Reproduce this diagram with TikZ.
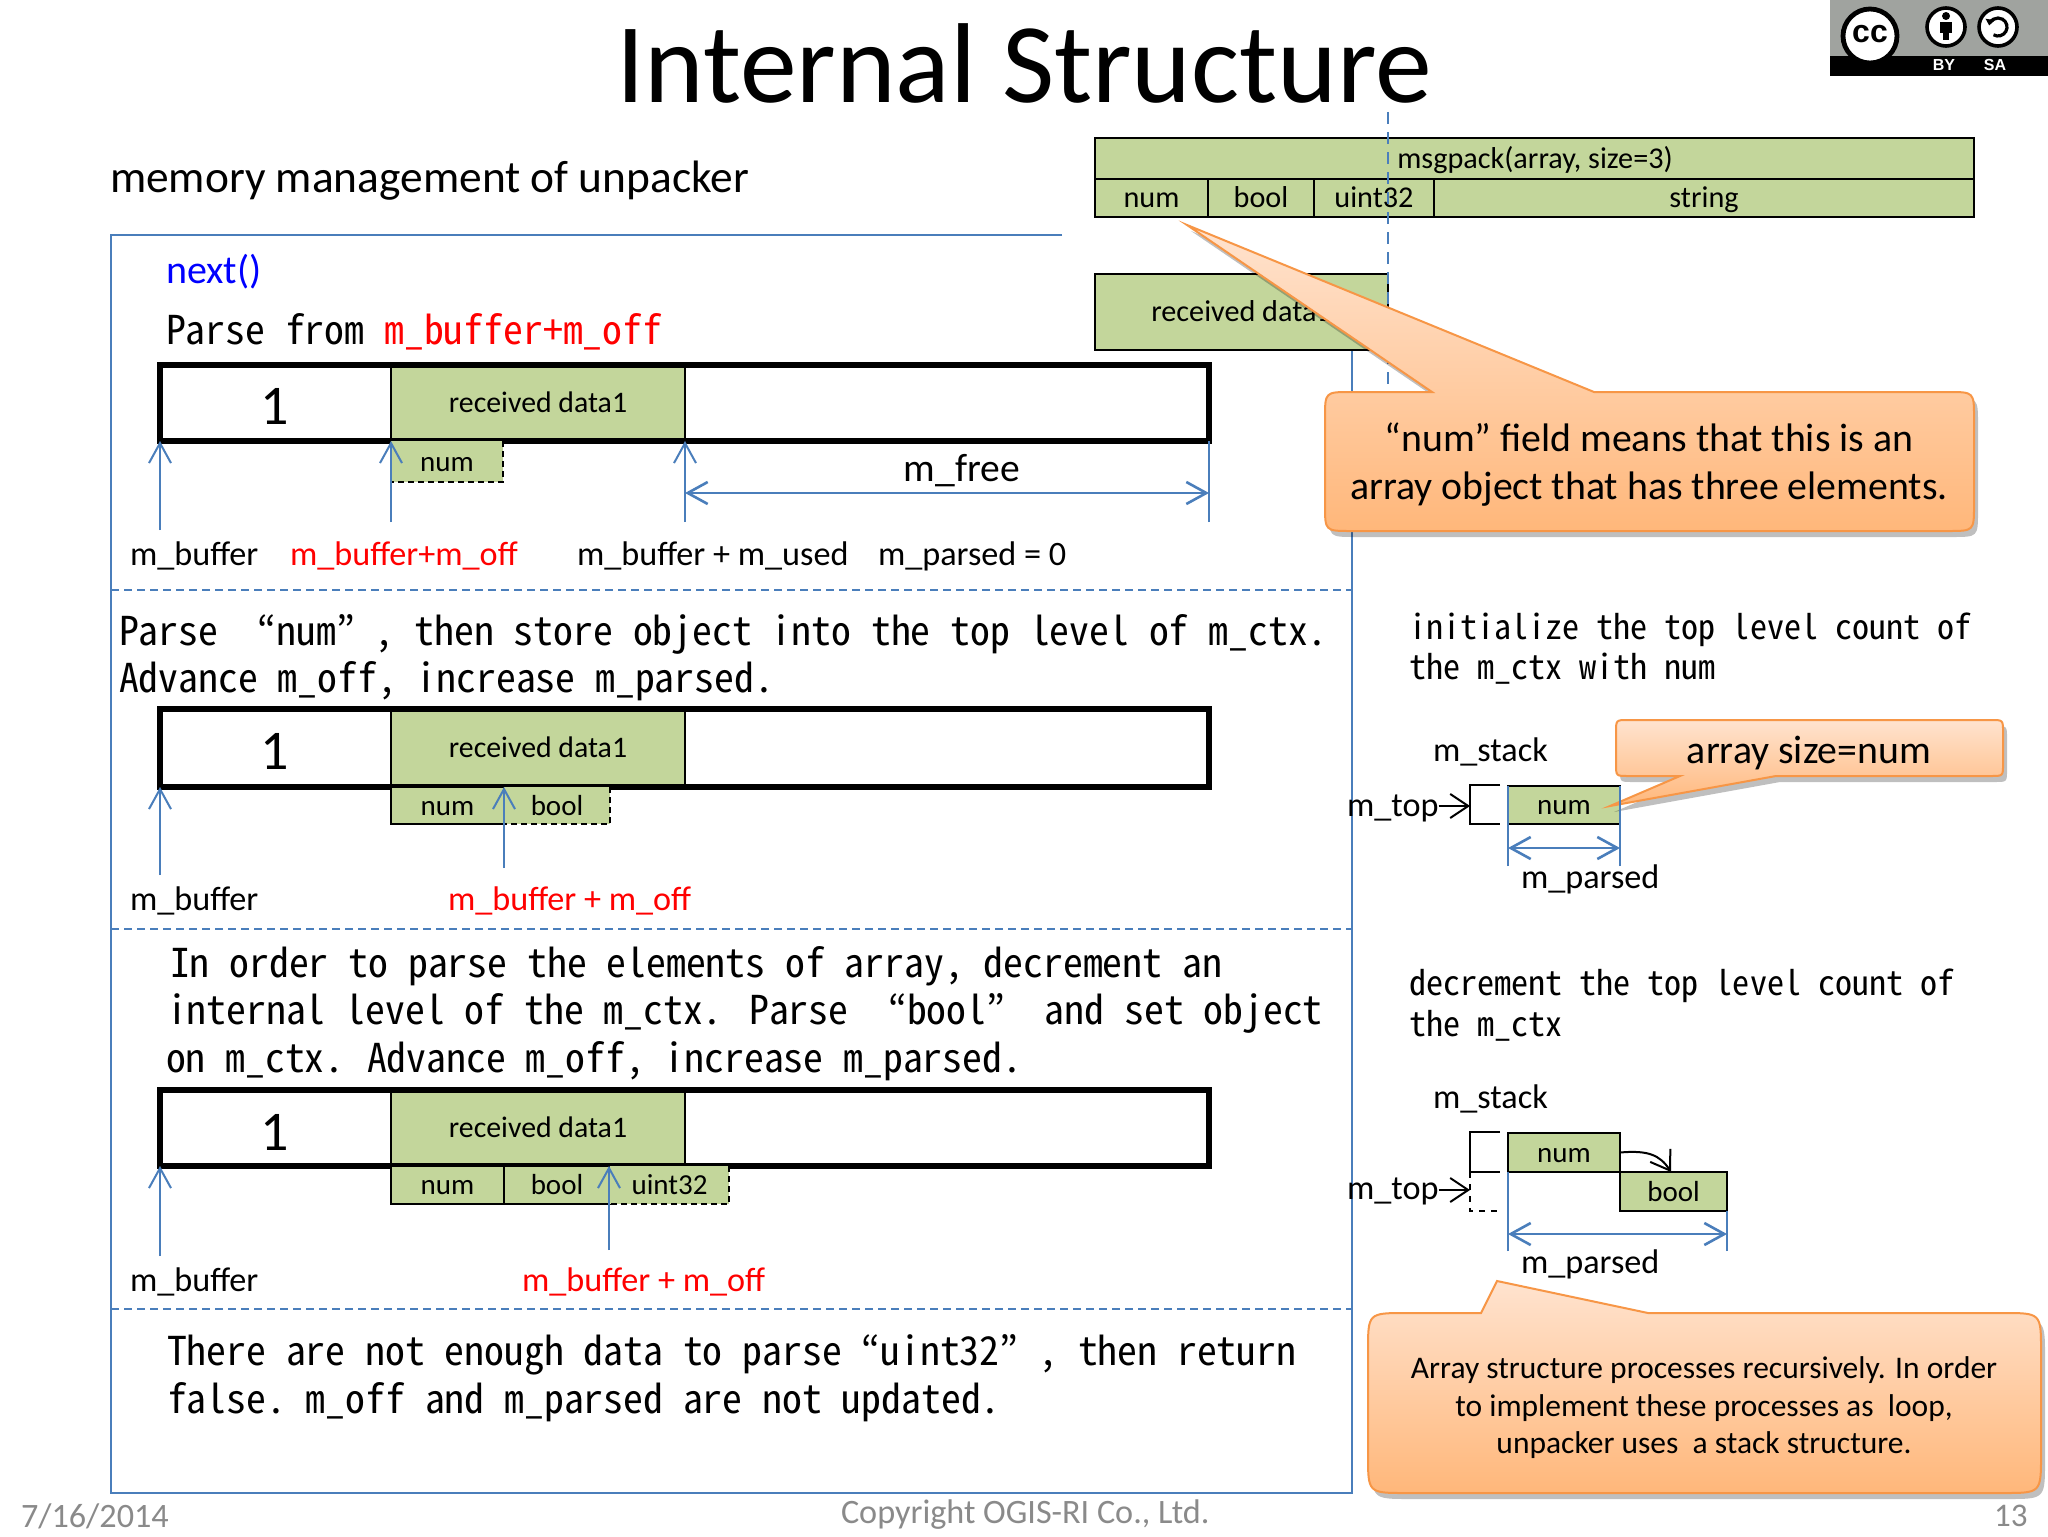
\documentclass[tikz,border=0pt]{standalone}
\usepackage{fontspec}
\usetikzlibrary{arrows.meta,shadows}
\setmainfont{Carlito}
\newfontfamily\jpf[RawFeature={+hwid;-liga;-clig;-dlig}]{Noto Sans CJK JP}
\newfontfamily\lsf{Liberation Sans}
\newcommand\fz[1]{\fontsize{#1}{#1}\selectfont}
\definecolor{grn}{HTML}{C3D69B}
\definecolor{blu}{HTML}{4A7EBB}
\definecolor{org}{HTML}{F79646}
\definecolor{otop}{HTML}{FFE3CF}
\definecolor{obot}{HTML}{FFB77A}
\definecolor{gry}{HTML}{8A8A8A}
\definecolor{ccg}{HTML}{A0A39F}
\newcommand\stru{\rule[-.2em]{0pt}{.92em}}
\newcommand\strub{\rule[-.2em]{0pt}{1.06em}}
\tikzset{
 txt/.style={inner sep=0,outer sep=0,anchor=west,yshift=-1.5pt,execute at begin node=\stru},
 ctr/.style={txt,anchor=center},
 mono/.style={txt,font=\jpf\fz{19.85},black},
 monos/.style={txt,font=\jpf\fz{17.05},black},
 lab/.style={txt,font=\fz{17.1}},
 blk/.style={inner sep=0,outer sep=0,draw=black,line width=.75pt,fill=grn,font=\fz{15.1},execute at begin node=\strub},
 buf/.style={inner sep=0,outer sep=0,draw=black,line width=2.7pt},
 dataf/.style={inner sep=0,outer sep=0,fill=grn,draw=black,line width=.6pt,font=\fz{14.9},execute at begin node=\strub},
 cell/.style={inner sep=0,outer sep=0,fill=grn,font=\fz{14.5},execute at begin node=\strub},
 ptr/.style={blu,line width=1pt,-{Straight Barb[length=10pt,width=11pt,line width=1pt]}},
 dim/.style={blu,line width=1.4pt,{Straight Barb[length=10pt,width=11pt,line width=1.3pt]}-{Straight Barb[length=10pt,width=11pt,line width=1.3pt]}},
 tick/.style={blu,line width=.8pt},
 sep/.style={blu,line width=.8pt,dash pattern=on 4pt off 2.5pt},
 blkarrow/.style={black,line width=1pt,-{Straight Barb[length=9pt,width=12pt,line width=1pt]}},
 cdash/.style={black,line width=.8pt,dash pattern=on 3pt off 2pt},
 callout/.style={draw=org,line width=1pt,top color=otop,bottom color=obot,drop shadow={shadow xshift=2pt,shadow yshift=-3pt,opacity=.25,fill=black}},
}
% style name x1 y1 x2 y2 text
\newcommand\bx[7]{\node[#1,minimum width={(#5-#3)*.5pt},minimum height={(#6-#4)*.5pt}] (#2) at ({(#3+#5)/2},{(#4+#6)/2}) {#7};}
% L T R B r b1 tipx tipy b2 : pointer on the top edge
\newcommand\callout[9]{%
 \path[callout] (#1,{#2+#5}) .. controls (#1,#2) .. ({#1+#5},#2) -- (#6,#2) -- (#7,#8) -- (#9,#2) -- ({#3-#5},#2)
  .. controls (#3,#2) .. (#3,{#2+#5}) -- (#3,{#4-#5}) .. controls (#3,#4) .. ({#3-#5},#4) -- ({#1+#5},#4)
  .. controls (#1,#4) .. (#1,{#4-#5}) -- cycle;}
% pointer on the bottom edge
\newcommand\calloutb[9]{%
 \path[callout] (#1,{#2+#5}) .. controls (#1,#2) .. ({#1+#5},#2) -- ({#3-#5},#2)
  .. controls (#3,#2) .. (#3,{#2+#5}) -- (#3,{#4-#5}) .. controls (#3,#4) .. ({#3-#5},#4) -- (#9,#4) -- (#7,#8) -- (#6,#4) -- ({#1+#5},#4)
  .. controls (#1,#4) .. (#1,{#4-#5}) -- cycle;}
\begin{document}
\begin{tikzpicture}[x=.5pt,y=-.5pt]
\useasboundingbox (0,0) rectangle (2048,1536);
\fill[white] (0,0) rectangle (2048,1536);
% frame
\draw[blu,line width=.7pt] (1062,235) -- (111,235) -- (111,1493) -- (1352,1493) -- (1352,350);
\foreach \y in {590,929,1309} \draw[sep] (111,\y) -- (1352,\y);
% title
\node[txt,font=\fz{56.8}] (title) at (616,70) {Internal Structure};
\node[txt,font=\fz{22.7}] (sub) at (110,178) {memory management of unpacker};
% cc logo
\fill[ccg] (1830,0) rectangle (2048,56);
\fill[black] (1830,56) rectangle (2048,76);
\draw[black,line width=2.4pt,fill=white] (1870,36) circle[radius=27];
\node[ctr,font=\lsf\bfseries\fz{16}] (cc) at (1870,31) {cc};
\draw[black,line width=1.8pt,fill=white] (1946,27) circle[radius=19];
\fill[black] (1946,16) circle[radius=4];
\fill[black] (1940,22) rectangle (1952,33);
\fill[black] (1943,33) rectangle (1949,40);
\draw[black,line width=1.8pt,fill=white] (1998,27) circle[radius=19];
\draw[black,line width=1.6pt,-{Triangle[length=3pt,width=4.5pt]}] (1993.5,34.8) arc[start angle=-120,end angle=170,radius=4.5pt];
\node[ctr,white,font=\lsf\bfseries\fz{8}] (by) at (1944,63) {BY};
\node[ctr,white,font=\lsf\bfseries\fz{8}] (sa) at (1995,63) {SA};
% msgpack
\bx{blk}{mp}{1095}{138}{1974}{179}{}
\node[ctr,font=\fz{15.1}] (mpt) at (1535,157) {msgpack(array, size=3)};
\bx{blk}{f1}{1095}{179}{1208}{217}{num}
\bx{blk}{f2}{1208}{179}{1314}{217}{bool}
\bx{blk}{f3}{1314}{179}{1434}{217}{uint32}
\bx{blk}{f4}{1434}{179}{1974}{217}{string}
\bx{blk}{rd}{1095}{274}{1388}{350}{received data1}
\draw[blu,line width=.8pt,dash pattern=on 6pt off 4pt] (1388,112) -- (1388,392);
\callout{1325}{392}{1974}{531}{26}{1432}{1187}{225}{1594}
\node[ctr,font=\fz{19.9}] (c1a) at (1649,438) {“num” field means that this is an};
\node[ctr,font=\fz{19.9}] (c1b) at (1649,486) {array object that has three elements.};
% first section
\node[txt,blue,font=\fz{20}] (nx) at (166,270) {next()};
\node[mono] (p1) at (166,330) {Parse from \textcolor{red}{m\_buffer+m\_off}};
\bx{dataf}{d1}{391}{365}{685}{441}{received data1}
\bx{buf}{b1}{160}{365}{1209}{441}{}
\node[ctr,font=\fz{28}] (one1) at (275,407) {1};
\bx{cell}{n1}{391}{441}{503}{482}{num}
\draw[cdash] (n1.north east) -- (n1.south east) -- (n1.south west);
\coordinate (a1) at (160,530); \coordinate (a2) at (391,522); \coordinate (a3) at (685,522); \coordinate (a4) at (1209,522);
\draw[ptr] (a1) -- (a1 |- b1.south);
\draw[ptr] (a2) -- (a2 |- b1.south);
\draw[ptr] (a3) -- (a3 |- b1.south);
\draw[tick] (a4) -- (a4 |- b1.south);
\coordinate (a3m) at (685,493); \coordinate (a4m) at (1209,493);
\draw[dim] (a3m) -- (a4m);
\node[ctr,font=\fz{19.8}] (mf) at (962,468) {m\_free};
\node[lab] (l1) at (130,554) {m\_buffer};
\node[lab,red] (l2) at (290,554) {m\_buffer+m\_off};
\node[lab] (l3) at (577,554) {m\_buffer + m\_used};
\node[lab] (l4) at (878,554) {m\_parsed = 0};
% second
\node[mono] (t1) at (119,631) {Parse~ “num” , then store object into the top level of m\_ctx.};
\node[mono] (t2) at (119,678) {Advance m\_off, increase m\_parsed.};
\bx{dataf}{d2}{391}{709}{685}{787}{received data1}
\bx{buf}{b2}{160}{709}{1209}{787}{}
\node[ctr,font=\fz{28}] (one2) at (275,752) {1};
\bx{blk,font=\fz{14.5}}{n2}{391}{787}{504}{824}{num}
\bx{cell}{bo2}{504}{787}{610}{824}{bool}
\draw[cdash] (bo2.north east) -- (bo2.south east) -- (bo2.south west);
\coordinate (a5) at (160,875); \coordinate (a6) at (504,868);
\draw[ptr] (a5) -- (a5 |- b2.south);
\draw[ptr] (a6) -- (a6 |- b2.south);
\node[lab] (l5) at (130,899) {m\_buffer};
\node[lab,red] (l6) at (448,899) {m\_buffer + m\_off};
% third
\node[mono] (t3) at (170,963) {In order to parse the elements of array, decrement an};
\node[mono] (t4) at (167,1010) {internal level of the m\_ctx. Parse~ “bool”~ and set object};
\node[mono] (t5) at (166,1058) {on m\_ctx.\kern-2pt{} Advance m\_off, increase m\_parsed.};
\bx{dataf}{d3}{391}{1090}{685}{1166}{received data1}
\bx{buf}{b3}{160}{1090}{1209}{1166}{}
\node[ctr,font=\fz{28}] (one3) at (275,1133) {1};
\bx{blk,font=\fz{14.5}}{n3}{391}{1166}{504}{1204}{num}
\bx{blk,font=\fz{14.5}}{bo3}{504}{1166}{610}{1204}{bool}
\bx{cell}{u3}{610}{1166}{729}{1204}{uint32}
\draw[cdash] (u3.north east) -- (u3.south east) -- (u3.south west);
\coordinate (a7) at (160,1256); \coordinate (a8) at (609,1250);
\draw[ptr] (a7) -- (a7 |- b3.south);
\draw[ptr] (a8) -- (a8 |- b3.south);
\node[lab] (l7) at (130,1280) {m\_buffer};
\node[lab,red] (l8) at (522,1280) {m\_buffer + m\_off};
% fourth
\node[mono] (t6) at (167,1352) {There are not enough data to parse “uint32” , then return};
\node[mono] (t7) at (167,1399) {false.\kern-3.3pt{} m\_off and m\_parsed are not updated.};
% right top
\node[monos] (r1) at (1409,627) {initialize the top level count of};
\node[monos] (r2) at (1409,667) {the m\_ctx with num};
\node[lab] (s1) at (1433,750) {m\_stack};
\node[lab] (mt1) at (1347,805) {m\_top};
\coordinate (st1) at (1470,806);
\draw[black,line width=.8pt] (1500,785) -- (1470,785) -- (1470,824) -- (1500,824);
\draw[blkarrow] (mt1.east |- st1) -- (st1);
\bx{blk,font=\fz{14.5}}{n4}{1508}{786}{1620}{824}{num}
\calloutb{1616}{720}{2003}{776}{12}{1680}{1610}{806}{1776}
\node[ctr,font=\fz{19.9}] (as) at (1809,750) {array size=num};
\coordinate (t1a) at (1508,866); \coordinate (t1b) at (1620,866);
\draw[tick] (t1a) -- (n4.north west);
\draw[tick] (t1b) -- (n4.north east);
\coordinate (d1a) at (1508,848); \coordinate (d1b) at (1620,848);
\draw[dim] (d1a) -- (d1b);
\node[lab] (p2) at (1521,877) {m\_parsed};
% right lower
\node[monos] (r3) at (1409,983) {decrement the top level count of};
\node[monos] (r4) at (1409,1024) {the m\_ctx};
\node[lab] (s2) at (1433,1097) {m\_stack};
\draw[black,line width=.8pt] (1500,1132) -- (1470,1132) -- (1470,1172) -- (1500,1172);
\draw[black,line width=.8pt,dash pattern=on 3pt off 3pt] (1470,1172) -- (1470,1211) -- (1500,1211);
\node[lab] (mt2) at (1347,1188) {m\_top};
\coordinate (st2) at (1470,1190);
\draw[blkarrow] (mt2.east |- st2) -- (st2);
\bx{blk,font=\fz{14.5}}{n5}{1508}{1133}{1620}{1172}{num}
\bx{blk,font=\fz{14.5}}{bo5}{1620}{1172}{1727}{1211}{bool}
\coordinate (c5) at (1671,1172);
\draw[blkarrow] (n5.east) .. controls (1648,1150) and (1660,1155) .. (c5);
\coordinate (t2a) at (1508,1251); \coordinate (t2b) at (1727,1251);
\draw[tick] (t2a) -- (n5.south west);
\draw[tick] (t2b) -- (bo5.south east);
\coordinate (d2a) at (1508,1234); \coordinate (d2b) at (1727,1234);
\draw[dim] (d2a) -- (d2b);
\node[lab] (p3) at (1521,1262) {m\_parsed};
\callout{1368}{1313}{2041}{1493}{38}{1481}{1497}{1281}{1648}
\node[ctr,font=\fz{15.75}] (c2a) at (1704,1367) {Array structure processes recursively. In order};
\node[ctr,font=\fz{15.75}] (c2b) at (1704,1405) {to implement these processes as~ loop,};
\node[ctr,font=\fz{15.75}] (c2c) at (1704,1442) {unpacker uses~ a stack structure.};
% footer
\node[txt,gry,font=\fz{17.1}] (dt) at (21,1516) {7/16/2014};
\node[txt,gry,font=\fz{17.1}] (cp) at (841,1512) {Copyright OGIS-RI Co., Ltd.};
\node[txt,gry,font=\fz{16.5}] (pg) at (1994,1515) {13};
\end{tikzpicture}
\end{document}
